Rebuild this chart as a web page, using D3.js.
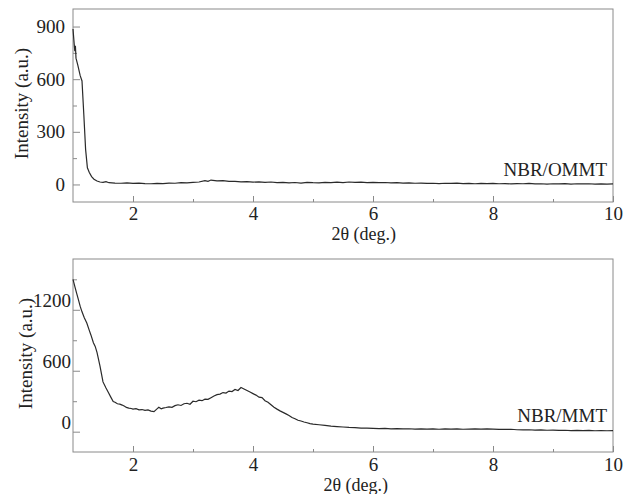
<!DOCTYPE html>
<html>
<head>
<meta charset="utf-8">
<script src="https://cdn.jsdelivr.net/npm/d3@7"></script>
<style>
  body { margin: 0; background: #fff; }
  svg text { font-family: "Liberation Serif", "Times New Roman", serif; fill: #222; }
</style>
</head>
<body>
<div id="chart"></div>
<script>
// NBR/OMMT pattern (upper panel)
const ommtTheta = [1.00, 1.02, 1.03, 1.04, 1.05, 1.08, 1.12, 1.15, 1.18, 1.21, 1.24, 1.27, 1.31, 1.35, 1.40, 1.45, 1.50, 1.55, 1.60,
  1.7, 1.8, 1.9, 2.0, 2.1, 2.2, 2.3, 2.4, 2.5, 2.6, 2.7, 2.8, 2.9, 3.0, 3.1, 3.2, 3.25, 3.3, 3.4, 3.5, 3.6, 3.7, 3.8, 3.9,
  4.0, 4.1, 4.2, 4.3, 4.4, 4.5, 4.6, 4.7, 4.8, 4.9, 5.0, 5.1, 5.2, 5.3, 5.4, 5.5, 5.6, 5.7, 5.8, 5.9,
  6.0, 6.1, 6.2, 6.3, 6.4, 6.5, 6.6, 6.7, 6.8, 6.9, 7.0, 7.1, 7.2, 7.3, 7.4, 7.5, 7.6, 7.7, 7.8, 7.9,
  8.0, 8.1, 8.2, 8.3, 8.4, 8.5, 8.6, 8.7, 8.8, 8.9, 9.0, 9.1, 9.2, 9.3, 9.4, 9.5, 9.6, 9.7, 9.8, 9.9, 10.0];
const ommtIntensity = [886, 800, 760, 790, 720, 680, 620, 590, 400, 200, 95, 70, 45, 30, 20, 14, 12, 16, 10,
  8, 7, 9, 6, 8, 5, 4, 6, 5, 8, 7, 10, 9, 12, 14, 22, 18, 25, 20, 22, 18, 17, 15, 16,
  13, 15, 12, 14, 10, 12, 9, 11, 8, 12, 10, 9, 12, 10, 13, 11, 14, 12, 13, 11,
  12, 10, 11, 9, 10, 8, 9, 7, 8, 6, 7, 5, 7, 6, 8, 5, 6, 4, 6, 5,
  6, 4, 5, 3, 5, 4, 6, 3, 4, 2, 4, 3, 5, 2, 4, 3, 4, 2, 3, 2, 3];

// NBR/MMT pattern (lower panel)
const mmtTheta = [1.00, 1.03, 1.06, 1.09, 1.12, 1.15, 1.19, 1.23, 1.27, 1.30, 1.34, 1.37, 1.40, 1.45, 1.50, 1.55, 1.59, 1.63, 1.67,
  1.70, 1.74, 1.78, 1.82, 1.86, 1.89, 1.93, 1.97, 2.00, 2.05, 2.10, 2.15, 2.20, 2.25, 2.30, 2.35, 2.40, 2.43, 2.47,
  2.50, 2.55, 2.60, 2.65, 2.70, 2.75, 2.80, 2.85, 2.90, 2.95, 3.00, 3.05, 3.10, 3.15, 3.20, 3.25, 3.30, 3.35, 3.40,
  3.45, 3.50, 3.55, 3.60, 3.65, 3.70, 3.75, 3.80, 3.85, 3.90, 3.95, 4.00, 4.05, 4.10, 4.15, 4.20, 4.25, 4.30, 4.35,
  4.40, 4.45, 4.50, 4.55, 4.60, 4.65, 4.70, 4.75, 4.80, 4.85, 4.90, 4.95, 5.0, 5.1, 5.2, 5.3, 5.4, 5.5, 5.6, 5.7,
  5.8, 5.9, 6.0, 6.1, 6.2, 6.3, 6.4, 6.5, 6.6, 6.7, 6.8, 6.9, 7.0, 7.1, 7.2, 7.3, 7.4, 7.5, 7.6, 7.7, 7.8, 7.9,
  8.0, 8.1, 8.2, 8.3, 8.4, 8.5, 8.6, 8.7, 8.8, 8.9, 9.0, 9.1, 9.2, 9.3, 9.4, 9.5, 9.6, 9.7, 9.8, 9.9, 10.0];
const mmtIntensity = [1500, 1430, 1364, 1300, 1233, 1180, 1120, 1070, 1000, 950, 875, 840, 780, 646, 490, 430, 385, 340, 297,
  290, 275, 271, 262, 250, 239, 232, 228, 222, 226, 215, 218, 210, 214, 203, 198, 225, 240, 225,
  232, 238, 245, 240, 256, 265, 258, 275, 280, 270, 300, 295, 310, 305, 320, 318, 335, 352, 365,
  370, 385, 380, 400, 395, 415, 405, 435, 420, 405, 390, 375, 360, 340, 335, 305, 290, 265, 240,
  222, 205, 190, 175, 160, 140, 128, 112, 105, 95, 88, 80, 75, 68, 62, 55, 50, 46, 42, 40,
  36, 35, 33, 30, 32, 28, 30, 27, 29, 26, 28, 25, 27, 24, 28, 25, 27, 24, 26, 28, 25, 27,
  26, 23, 22, 24, 19, 17, 19, 15, 17, 14, 15, 12, 14, 11, 13, 10, 12, 9, 11, 9, 10];

const xMajor = [2, 4, 6, 8, 10];
const xMinor = [3, 5, 7, 9];
const ommtYMajor = [0, 300, 600, 900];
const ommtYMinor = [150, 450, 750];
const mmtYMajor = [0, 600, 1200];
const mmtYMinor = [300, 900, 1500];

const width = 623;
const height = 494;

const svg = d3.select('#chart').append('svg')
  .attr('width', width)
  .attr('height', height);

function drawPanel(opts) {
  const x = d3.scaleLinear().domain([1, 10]).range([73, 613]);
  const y = d3.scaleLinear().domain(opts.yDomain).range([opts.bottom, opts.top]);

  const g = svg.append('g');

  // frame
  g.append('rect')
    .attr('x', 73).attr('y', opts.top)
    .attr('width', 540).attr('height', opts.bottom - opts.top)
    .attr('fill', 'none')
    .attr('stroke', '#8a8a8a')
    .attr('stroke-width', 1);

  // x axis
  g.append('g')
    .attr('transform', `translate(0,${opts.bottom})`)
    .call(d3.axisBottom(x).tickValues(xMajor).tickSize(-6).tickPadding(opts.xPad).tickFormat(d3.format('d')));
  g.append('g')
    .attr('transform', `translate(0,${opts.bottom})`)
    .call(d3.axisBottom(x).tickValues(xMinor).tickSize(-3).tickFormat(''));

  // y axis
  const yAxis = g.append('g')
    .attr('transform', 'translate(73,0)')
    .call(d3.axisLeft(y).tickValues(opts.yMajor).tickSize(-7).tickPadding(opts.yPad).tickFormat(d3.format('d')));
  g.append('g')
    .attr('transform', 'translate(73,0)')
    .call(d3.axisLeft(y).tickValues(opts.yMinor).tickSize(-4).tickFormat(''));

  g.selectAll('.domain').remove();
  g.selectAll('.tick line').attr('stroke', '#8a8a8a');
  g.selectAll('.tick text')
    .style('font-family', '"Liberation Serif", serif')
    .style('font-size', '19px')
    .attr('fill', '#222');
  yAxis.selectAll('.tick text').attr('y', opts.yLabelShift);

  // data line
  const pts = opts.theta.map((t, i) => [t, opts.intensity[i]]);
  g.append('path')
    .datum(pts)
    .attr('fill', 'none')
    .attr('stroke', '#2a2a2a')
    .attr('stroke-width', 1.2)
    .attr('d', d3.line().x(d => x(d[0])).y(d => y(d[1])));

  // axis titles
  g.append('text')
    .attr('x', opts.xTitleEnd).attr('y', opts.xTitleY)
    .attr('text-anchor', 'end')
    .style('font-size', '18px')
    .text('2θ (deg.)');

  g.append('text')
    .attr('transform', `translate(${opts.yTitleX},${(opts.top + opts.bottom) / 2 - 2}) rotate(-90)`)
    .attr('text-anchor', 'middle')
    .attr('dy', '0.35em')
    .style('font-size', '19px')
    .text('Intensity (a.u.)');

  g.append('text')
    .attr('x', 607).attr('y', opts.nameY)
    .attr('text-anchor', 'end')
    .style('font-size', '19px')
    .text(opts.name);
}

drawPanel({
  top: 9, bottom: 202, yDomain: [-100, 1000],
  yMajor: ommtYMajor, yMinor: ommtYMinor,
  theta: ommtTheta, intensity: ommtIntensity,
  xPad: 5, yPad: 8, yLabelShift: 0,
  xTitleEnd: 396, xTitleY: 240, yTitleX: 21,
  name: 'NBR/OMMT', nameY: 176
});

drawPanel({
  top: 259, bottom: 452, yDomain: [-200, 1700],
  yMajor: mmtYMajor, yMinor: mmtYMinor,
  theta: mmtTheta, intensity: mmtIntensity,
  xPad: 6, yPad: 2, yLabelShift: -9,
  xTitleEnd: 388, xTitleY: 491, yTitleX: 25,
  name: 'NBR/MMT', nameY: 422
});
</script>
</body>
</html>
